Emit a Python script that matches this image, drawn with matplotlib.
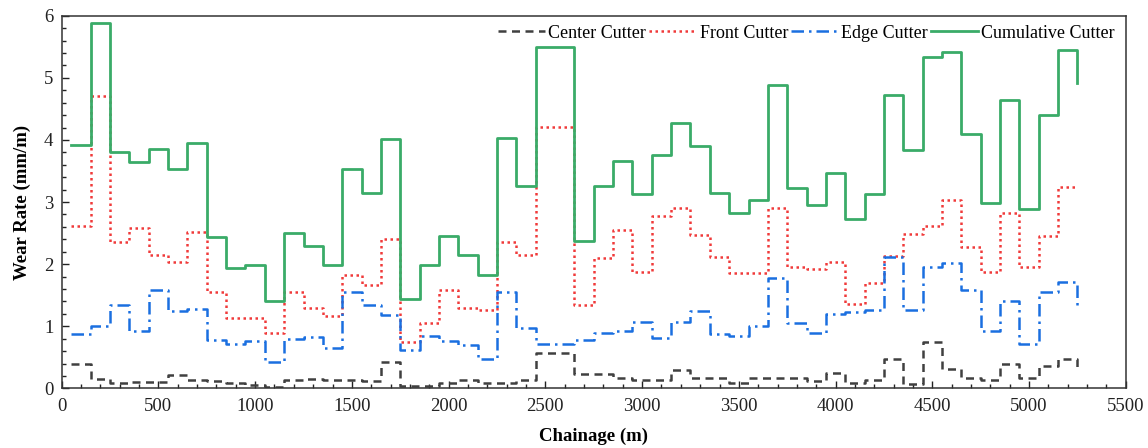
import matplotlib
matplotlib.use("Agg")
import matplotlib.pyplot as plt
from matplotlib.ticker import MultipleLocator

chainage = [50 + 100 * k for k in range(53)]

center = [0.39, 0.15, 0.08, 0.10, 0.10, 0.21, 0.13, 0.12, 0.08, 0.05, 0.03,
          0.13, 0.15, 0.13, 0.14, 0.12, 0.42, 0.04, 0.04, 0.08, 0.13, 0.08,
          0.09, 0.13, 0.57, 0.57, 0.23, 0.23, 0.17, 0.14, 0.14, 0.30, 0.16,
          0.16, 0.09, 0.16, 0.17, 0.17, 0.12, 0.25, 0.09, 0.14, 0.47, 0.07,
          0.74, 0.31, 0.17, 0.14, 0.39, 0.17, 0.36, 0.47, 0.33]

front = [2.61, 4.70, 2.35, 2.59, 2.14, 2.04, 2.51, 1.55, 1.14, 1.14, 0.90,
         1.56, 1.30, 1.16, 1.82, 1.66, 2.40, 0.75, 1.06, 1.59, 1.29, 1.26,
         2.35, 2.14, 4.21, 4.21, 1.34, 2.10, 2.55, 1.87, 2.78, 2.90, 2.47,
         2.11, 1.86, 1.86, 2.90, 1.96, 1.92, 2.04, 1.36, 1.69, 2.13, 2.48,
         2.61, 3.04, 2.28, 1.88, 2.82, 1.96, 2.46, 3.24, 3.24]

edge = [0.87, 1.01, 1.35, 0.93, 1.59, 1.25, 1.28, 0.78, 0.72, 0.77, 0.43,
        0.79, 0.82, 0.65, 1.55, 1.34, 1.18, 0.62, 0.84, 0.77, 0.70, 0.48,
        1.56, 0.97, 0.71, 0.71, 0.78, 0.90, 0.92, 1.07, 0.81, 1.07, 1.25,
        0.87, 0.84, 1.01, 1.78, 1.06, 0.90, 1.19, 1.23, 1.26, 2.12, 1.27,
        1.96, 2.02, 1.59, 0.92, 1.41, 0.72, 1.55, 1.71, 1.32]

cumulative = [3.92, 5.89, 3.80, 3.64, 3.85, 3.53, 3.95, 2.43, 1.94, 1.99, 1.40,
              2.50, 2.30, 1.98, 3.54, 3.15, 4.02, 1.44, 1.99, 2.45, 2.14, 1.83,
              4.03, 3.26, 5.50, 5.50, 2.38, 3.26, 3.66, 3.13, 3.75, 4.27, 3.91,
              3.15, 2.83, 3.04, 4.88, 3.22, 2.95, 3.47, 2.73, 3.13, 4.72, 3.84,
              5.34, 5.41, 4.10, 2.99, 4.64, 2.89, 4.40, 5.45, 4.91]

plt.rcParams['font.family'] = ['Liberation Serif', 'DejaVu Serif']
plt.rcParams['mathtext.fontset'] = 'stix'

fig = plt.figure(figsize=(11.48, 4.48), dpi=100)
ax = fig.add_axes([0.0537, 0.133, 0.927, 0.832])

ax.plot(chainage, center, drawstyle='steps-post', color='#404040',
        linestyle=(0, (3.2, 2.2)), lw=1.8, label='Center Cutter')
ax.plot(chainage, front, drawstyle='steps-post', color='#f03a3a',
        linestyle=(0, (1, 1.4)), lw=1.8, label='Front Cutter')
ax.plot(chainage, edge, drawstyle='steps-post', color='#1a6fe0',
        linestyle=(0, (5, 2, 1, 2)), lw=1.8, label='Edge Cutter')
ax.plot(chainage, cumulative, drawstyle='steps-post', color='#3aab68',
        linestyle='-', lw=2.0, label='Cumulative Cutter')

ax.set_xlim(0, 5500)
ax.set_ylim(0, 6)
ax.xaxis.set_major_locator(MultipleLocator(500))
ax.xaxis.set_minor_locator(MultipleLocator(100))
ax.yaxis.set_major_locator(MultipleLocator(1))
ax.yaxis.set_minor_locator(MultipleLocator(0.2))
ax.tick_params(which='both', direction='in', top=False, right=False,
               labelsize=13.5, colors='#222222', width=1)
ax.tick_params(axis='x', which='major', pad=7)
ax.tick_params(axis='y', which='major', pad=6)
ax.tick_params(which='major', length=5)
ax.tick_params(which='minor', length=3)
for s in ax.spines.values():
    s.set_color('#333333')
    s.set_linewidth(1.1)

ax.set_xlabel('Chainage (m)', fontsize=13.5, fontweight='bold', labelpad=9)
ax.set_ylabel('Wear Rate (mm/m)', fontsize=13.5, fontweight='bold', labelpad=9)

ax.legend(loc='upper right', ncol=4, frameon=False, fontsize=13,
          handlelength=2.6, handletextpad=0.2, columnspacing=0.15,
          borderaxespad=0.2, bbox_to_anchor=(1.0, 1.005))

fig.savefig('out.png', dpi=100)
